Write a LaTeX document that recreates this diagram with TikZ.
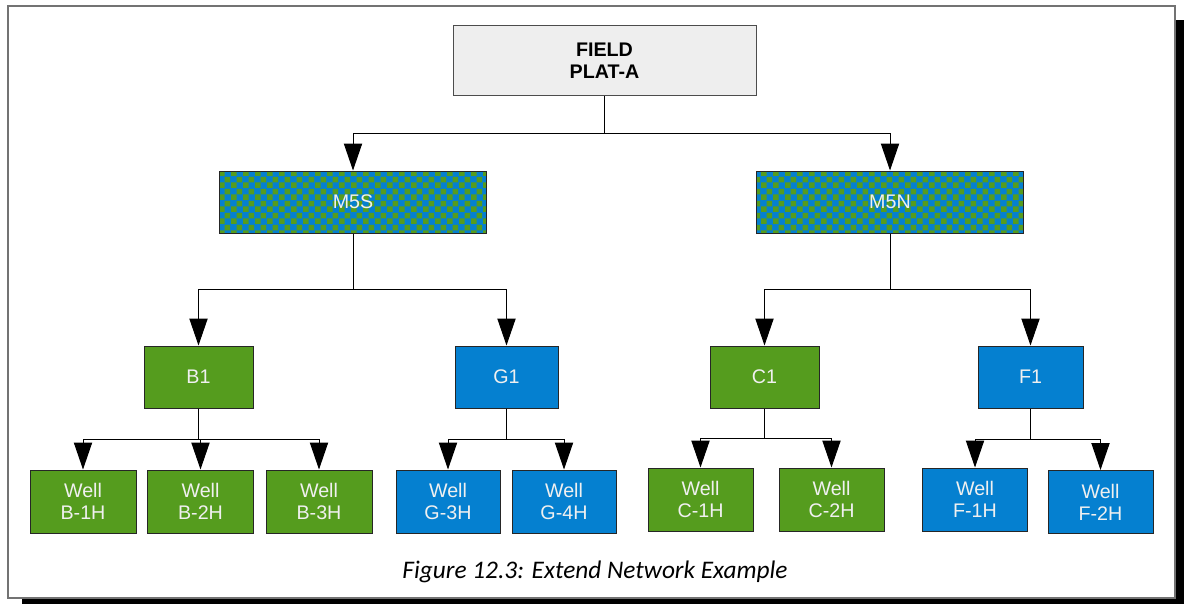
\documentclass[tikz,border=0pt]{standalone}
\usepackage{fontspec}
\setmainfont{Liberation Sans}
\newfontfamily\capfont{Carlito}
\usetikzlibrary{arrows.meta,patterns.meta}
\newdimen\pxu \pxu=0.025cm
\definecolor{wgreen}{HTML}{559C1E}
\definecolor{wblue}{HTML}{0580D0}
\definecolor{fieldgray}{HTML}{EEEEEE}
\tikzdeclarepattern{name=netchecks, type=uncolored,
  bounding box={(0pt,0pt) and (8.2pt,8.2pt)}, tile size={(8.2pt,8.2pt)},
  code={\fill (0pt,0pt) rectangle (4.1pt,4.1pt); \fill (4.1pt,4.1pt) rectangle (8.2pt,8.2pt);}}
\begin{document}
\begin{tikzpicture}[x=1\pxu, y=-1\pxu,
  font=\fontsize{14}{15.5}\selectfont, >={Triangle[length=19.2pt, width=13pt]},
  unit/.style={draw=black!85, line width=1\pxu, align=center, text=white!94!black, inner sep=0pt, minimum height=62\pxu},
  field/.style={unit, fill=fieldgray, draw=black!70, text=black, font=\fontsize{14}{15.5}\selectfont\bfseries, minimum width=303\pxu, minimum height=70\pxu},
  mani/.style={unit, minimum width=267\pxu, preaction={fill=wblue}, pattern=netchecks, pattern color=wgreen},
  grn/.style={unit, fill=wgreen, minimum width=109\pxu}, blu/.style={unit, fill=wblue, minimum width=105\pxu},
  wellg/.style={grn, minimum width=106\pxu, minimum height=63\pxu}, wellb/.style={blu, minimum width=105\pxu, minimum height=63\pxu},
  link/.style={->, line width=1\pxu}]
\useasboundingbox (0,0) rectangle (1184,604);
\fill[black] (22,20) rectangle (1184,604);
\draw[draw=black!55, line width=2\pxu, fill=white] (8,6) rectangle (1175,598);
\node[field] (fld) at (604.5,61) {FIELD\\PLAT-A};
\node[mani] (m5s) at (353,202) {M5S};
\node[mani] (m5n) at (890,202) {M5N};
\node[grn] (b1) at (198.5,377) {B1};
\node[blu, minimum width=103\pxu] (g1) at (506.5,377) {G1};
\node[grn] (c1) at (764.5,377) {C1};
\node[blu] (f1) at (1030.5,377) {F1};
\node[wellg] (bw1) at (83,501.5) {Well\\B-1H};
\node[wellg] (bw2) at (200.5,501.5) {Well\\B-2H};
\node[wellg] (bw3) at (319,501.5) {Well\\B-3H};
\node[wellb, minimum width=104\pxu] (gw3) at (448,501.5) {Well\\G-3H};
\node[wellb, minimum width=104\pxu] (gw4) at (564,501.5) {Well\\G-4H};
\node[wellg, minimum width=105\pxu] (cw1) at (700.5,499.5) {Well\\C-1H};
\node[wellg, minimum width=105\pxu] (cw2) at (831.5,499.5) {Well\\C-2H};
\node[wellb] (fw1) at (975,499.5) {Well\\F-1H};
\node[wellb] (fw2) at (1100.5,502) {Well\\F-2H};
\draw[link] (fld.south) -- ++(0,37) -| (m5s.north); \draw[link] (fld.south) -- ++(0,37) -| (m5n.north);
\draw[link] (m5s.south) -- ++(0,56) -| (b1.north); \draw[link] (m5s.south) -- ++(0,56) -| (g1.north);
\draw[link] (m5n.south) -- ++(0,56) -| (c1.north); \draw[link] (m5n.south) -- ++(0,56) -| (f1.north);
\draw[link] (b1.south) -- ++(0,31) -| (bw1.north); \draw[link] (b1.south) -- ++(0,31) -| (bw2.north);
\draw[link] (b1.south) -- ++(0,31) -| (bw3.north);
\draw[link] (g1.south) -- ++(0,31) -| (gw3.north); \draw[link] (g1.south) -- ++(0,31) -| (gw4.north);
\draw[link] (c1.south) -- ++(0,30) -| (cw1.north); \draw[link] (c1.south) -- ++(0,30) -| (cw2.north);
\draw[link] (f1.south) -- ++(0,31) -| (fw1.north); \draw[link] (f1.south) -- ++(0,31) -| (fw2.north);
\node[font=\capfont\itshape\fontsize{18}{20}\selectfont, anchor=base] (cap) at (595,578) {Figure 12.3: Extend Network Example};
\end{tikzpicture}
\end{document}
